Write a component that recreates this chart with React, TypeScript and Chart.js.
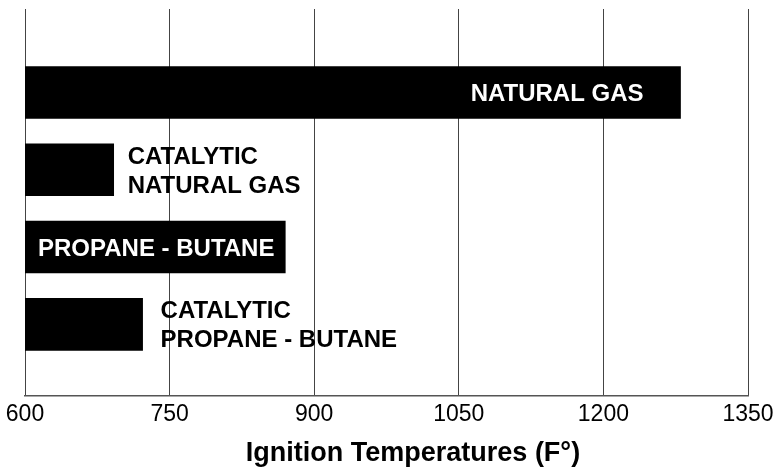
import React, { useEffect, useRef } from 'react';
import { Chart, registerables } from 'chart.js';

Chart.register(...registerables);

const categories = ['NATURAL GAS', 'CATALYTIC NATURAL GAS', 'PROPANE - BUTANE', 'CATALYTIC PROPANE - BUTANE'];
const labelLines = [['NATURAL GAS'], ['CATALYTIC', 'NATURAL GAS'], ['PROPANE - BUTANE'], ['CATALYTIC', 'PROPANE - BUTANE']];
const temperatures = [1280, 692, 870, 722];
const rowPositions = [1, 2, 3, 4];
const xTicks = [600, 750, 900, 1050, 1200, 1350];
const axisTitle = 'Ignition Temperatures (F°)';

const labelPlacement = ['insideEnd', 'outside', 'insideStart', 'outside'];
const labelColors = ['#ffffff', '#000000', '#ffffff', '#000000'];
const labelGap = [37, 14, 13, 18];

const FONT = "'Liberation Sans', Arial, Helvetica, sans-serif";

const barLabels = {
  id: 'barLabels',
  afterDatasetsDraw(chart: any) {
    const ctx = chart.ctx;
    const meta = chart.getDatasetMeta(0);
    const size = 24;
    const cap = size * 0.716;
    const lh = 29;
    ctx.save();
    ctx.font = `bold ${size}px ${FONT}`;
    ctx.textBaseline = 'alphabetic';
    meta.data.forEach((bar: any, i: number) => {
      const { x, y, base } = bar.getProps(['x', 'y', 'base'], true);
      const start = Math.max(base, chart.chartArea.left);
      const lines = labelLines[i];
      const place = labelPlacement[i];
      let tx = x + labelGap[i];
      let align = 'left';
      if (place === 'insideEnd') {
        tx = x - labelGap[i];
        align = 'right';
      } else if (place === 'insideStart') {
        tx = start + labelGap[i];
      }
      ctx.textAlign = align;
      ctx.fillStyle = labelColors[i];
      const blockH = (lines.length - 1) * lh + cap;
      const top = y - blockH / 2;
      lines.forEach((ln: string, j: number) => ctx.fillText(ln, tx, top + cap + j * lh));
    });
    ctx.restore();
  },
};

const axisTitlePlugin = {
  id: 'axisTitlePlugin',
  afterDraw(chart: any) {
    const ctx = chart.ctx;
    ctx.save();
    ctx.font = `bold 27px ${FONT}`;
    ctx.fillStyle = '#000000';
    ctx.textAlign = 'center';
    ctx.textBaseline = 'alphabetic';
    ctx.fillText(axisTitle, 413, chart.height - 6);
    ctx.restore();
  },
};

export default function App() {
  const ref = useRef<HTMLCanvasElement | null>(null);
  useEffect(() => {
    document.body.style.margin = '0';
    const canvas = ref.current;
    if (!canvas) return;
    const chart = new Chart(canvas, {
      type: 'bar',
      data: {
        labels: categories,
        datasets: [
          {
            data: rowPositions.map((p, i) => ({ x: temperatures[i], y: p })) as any,
            backgroundColor: '#000000',
            borderWidth: 0,
            barThickness: 52,
          },
        ],
      },
      options: {
        indexAxis: 'y',
        animation: false,
        responsive: false,
        maintainAspectRatio: false,
        layout: { padding: { top: 9, left: 25, right: 31, bottom: 34 } },
        plugins: { legend: { display: false }, tooltip: { enabled: false } },
        scales: {
          x: {
            type: 'linear',
            position: 'bottom',
            min: 600,
            max: 1350,
            afterBuildTicks: (scale: any) => {
              scale.ticks = xTicks.map((v) => ({ value: v }));
            },
            ticks: {
              color: '#000000',
              font: { family: FONT, size: 23 },
              padding: 5,
              maxRotation: 0,
              callback: (v: any) => String(v),
            },
            grid: { color: '#444444', lineWidth: 1, drawTicks: false },
            border: { color: '#555555', width: 1.5 },
            title: { display: false, text: axisTitle },
          },
          y: {
            type: 'linear',
            reverse: true,
            offset: false,
            min: -0.08,
            max: 4.92,
            display: false,
          },
        },
      },
      plugins: [barLabels, axisTitlePlugin],
    } as any);
    return () => chart.destroy();
  }, []);
  return (
    <div style={{ width: 779, height: 467 }}>
      <canvas ref={ref} width={779} height={467} style={{ display: 'block' }} />
    </div>
  );
}
